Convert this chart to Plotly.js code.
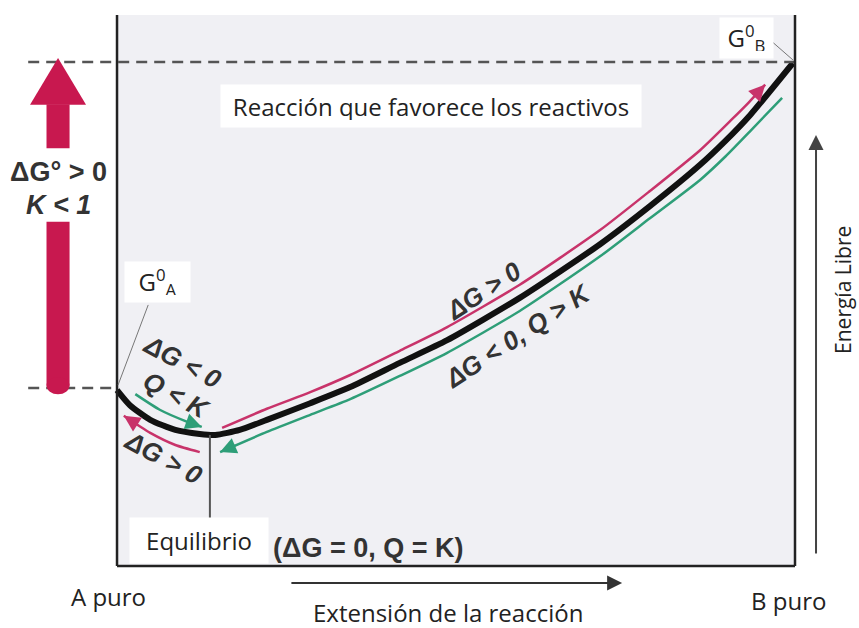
<!DOCTYPE html>
<html><head><meta charset="utf-8">
<script src="https://cdn.plot.ly/plotly-3.0.1.min.js"></script>
<style>html,body{margin:0;padding:0;background:#fff}</style>
</head><body><div id="chart" style="width:859px;height:628px"></div>
<script>
// Reaction extent (0 = A puro, 1 = B puro) and free energy G (arbitrary units)
const extent = [0.000,0.019,0.049,0.086,0.122,0.145,0.181,0.221,0.285,0.344,0.417,0.487,0.594,0.712,0.786,0.860,0.897,0.934,0.997];
const energy = [3.49,3.19,2.90,2.70,2.62,2.60,2.70,2.90,3.23,3.55,4.03,4.48,5.32,6.38,7.14,7.96,8.43,8.95,9.98];

// ΔG > 0 path (upper, pink) toward B
const redExt = [0.155,0.221,0.285,0.344,0.417,0.487,0.594,0.712,0.786,0.860,0.906,0.932,0.956];
const redG   = [2.74,3.12,3.45,3.79,4.27,4.74,5.58,6.66,7.44,8.25,8.85,9.20,9.55];
// ΔG < 0, Q > K path (lower, green) toward equilibrium
const greenExt = [0.152,0.221,0.285,0.344,0.417,0.487,0.594,0.712,0.786,0.860,0.897,0.934,0.981];
const greenG   = [2.26,2.66,3.00,3.31,3.77,4.23,5.06,6.14,6.90,7.66,8.12,8.63,9.29];
// left branch: ΔG < 0, Q < K (green, toward equilibrium)
const greenLeftExt = [0.027,0.063,0.100,0.125];
const greenLeftG   = [3.41,3.10,2.88,2.76];
// left branch: ΔG > 0 (pink, toward A)
const redLeftExt = [0.122,0.086,0.049,0.010];
const redLeftG   = [2.26,2.40,2.64,2.98];

const G_A = 3.53, G_B = 10.0;
const eqExt = 0.137, eqG = 2.60;

const RED = '#c8336a', GREEN = '#2e9e78', BIGRED = '#c8184f';
const SM = 0.6;

const traces = [
  {x: extent, y: energy, mode:'lines', line:{color:'#111', width:6, shape:'spline', smoothing:SM}},
  {x: redExt, y: redG, mode:'lines', line:{color:RED, width:2.5, shape:'spline', smoothing:SM}},
  {x: greenExt, y: greenG, mode:'lines', line:{color:GREEN, width:2.5, shape:'spline', smoothing:SM}},
  {x: greenLeftExt, y: greenLeftG, mode:'lines', line:{color:GREEN, width:2.5, shape:'spline', smoothing:SM}},
  {x: redLeftExt, y: redLeftG, mode:'lines', line:{color:RED, width:2.5, shape:'spline', smoothing:SM}}
];

function head(xs, ys, h, p, color){
  const x = xs[h], y = ys[h];
  return {x:x, y:y, ax: x + 0.35*(xs[p]-x), ay: y + 0.35*(ys[p]-y), axref:'x', ayref:'y',
    xref:'x', yref:'y', text:'', showarrow:true, arrowhead:2, arrowsize:1.3, arrowwidth:2.5,
    arrowcolor:color, standoff:0};
}

const boxTop = 10.93;
const shapes = [
  {type:'rect', layer:'below', x0:0, x1:1, y0:0, y1:boxTop, fillcolor:'#f0f0f4', line:{width:0}},
  // dashed reference levels
  {type:'line', x0:-0.131, x1:1.0, y0:G_B, y1:G_B, line:{color:'#555', width:2.5, dash:'11px,7px'}},
  {type:'line', x0:-0.131, x1:0, y0:G_A, y1:G_A, line:{color:'#555', width:2.5, dash:'11px,7px'}},
  // frame
  {type:'line', x0:0, x1:0, y0:0, y1:boxTop, line:{color:'#222', width:2.5}},
  {type:'line', x0:1, x1:1, y0:0, y1:boxTop, line:{color:'#222', width:2.5}},
  {type:'line', x0:0, x1:1, y0:0, y1:0, line:{color:'#222', width:2.5}},
  // leader lines
  {type:'line', x0:0.046, x1:0.0015, y0:5.18, y1:3.59, line:{color:'#777', width:1}},
  {type:'line', x0:0.963, x1:0.997, y0:10.44, y1:10.04, line:{color:'#777', width:1}},
  // equilibrium marker
  {type:'line', x0:eqExt, x1:eqExt, y0:eqG, y1:0.95, line:{color:'#555', width:2}},
  // big red arrow (ΔG° > 0)
  {type:'path', path:`M -0.1283,9.15 L -0.0870,${G_B+0.08} L -0.0457,9.15 Z`, fillcolor:BIGRED, line:{width:0}},
  {type:'rect', x0:-0.1040, x1:-0.0700, y0:8.29, y1:9.16, fillcolor:BIGRED, line:{width:0}},
  {type:'rect', x0:-0.1040, x1:-0.0700, y0:G_A+0.05, y1:6.83, fillcolor:BIGRED, line:{width:0}},
  {type:'circle', x0:-0.1040, x1:-0.0700, y0:G_A-0.12, y1:G_A+0.22, fillcolor:BIGRED, line:{width:0}}
];

const F = 'Open Sans, sans-serif';
const B = 'Liberation Sans, Arial, sans-serif';
const TXT = {family:F, size:24, color:'#222'};
const BOLD = {family:B, size:27, color:'#333', weight:'bold'};
const BI = {family:B, size:26, color:'#333', weight:'bold', style:'italic'};
const ann = [
  head(redExt, redG, redExt.length-1, redExt.length-2, RED),
  head(greenExt, greenG, 0, 1, GREEN),
  head(greenLeftExt, greenLeftG, greenLeftExt.length-1, greenLeftExt.length-2, GREEN),
  head(redLeftExt, redLeftG, redLeftExt.length-1, redLeftExt.length-2, RED),
  // axes arrows
  {x:0.745, y:-0.337, ax:0.255, ay:-0.337, axref:'x', ayref:'y', text:'', showarrow:true, arrowhead:2, arrowsize:1.5, arrowwidth:2, arrowcolor:'#333'},
  {x:1.031, y:8.55, ax:1.031, ay:0.22, axref:'x', ayref:'y', text:'', showarrow:true, arrowhead:2, arrowsize:1.5, arrowwidth:2, arrowcolor:'#444'},
  // texts
  {x:0.463, y:9.13, text:'Reacción que favorece los reactivos', showarrow:false, font:TXT, bgcolor:'#fff', width:406, height:28, borderpad:7},
  {x:0.060, y:5.63, text:'G<sup>0</sup><sub>A</sub>', showarrow:false, font:TXT, bgcolor:'#fff', width:51, height:26, borderpad:7},
  {x:0.928, y:10.48, text:'G<sup>0</sup><sub>B</sub>', showarrow:false, font:TXT, bgcolor:'#fff', width:39, height:26, borderpad:7},
  {x:0.121, y:0.50, text:'Equilibrio', showarrow:false, font:TXT, bgcolor:'#fff', width:124, height:31, borderpad:7},
  {x:0.370, y:0.357, text:'(ΔG = 0, Q = K)', showarrow:false, font:BOLD},
  {x:-0.013, y:-0.595, text:'A puro', showarrow:false, font:TXT},
  {x:0.990, y:-0.675, text:'B puro', showarrow:false, font:TXT},
  {x:0.488, y:-0.913, text:'Extensión de la reacción', showarrow:false, font:TXT},
  {x:1.071, y:5.48, text:'Energía Libre', textangle:-90, showarrow:false, font:{family:F, size:21, color:'#222'}},
  {x:-0.087, y:7.82, text:'ΔG° > 0', showarrow:false, font:BOLD},
  {x:-0.087, y:7.16, text:'K < 1', showarrow:false, font:{family:B, size:27, color:'#333', weight:'bold', style:'italic'}},
  {x:0.097, y:4.05, text:'ΔG < 0', textangle:28, showarrow:false, font:BI},
  {x:0.087, y:3.39, text:'Q < K', textangle:28, showarrow:false, font:BI},
  {x:0.069, y:2.14, text:'ΔG > 0', textangle:28, showarrow:false, font:BI},
  {x:0.540, y:5.46, text:'ΔG > 0', textangle:-33, showarrow:false, font:BI},
  {x:0.591, y:4.56, text:'ΔG < 0, Q > K', textangle:-33, showarrow:false, font:BI}
];

const layout = {
  width:859, height:628, margin:{l:0, r:0, t:0, b:0},
  paper_bgcolor:'#fff', plot_bgcolor:'#fff', showlegend:false,
  xaxis:{range:[-0.1726, 1.0944], visible:false, fixedrange:true},
  yaxis:{range:[-1.230, 11.230], visible:false, fixedrange:true},
  shapes: shapes, annotations: ann
};
Plotly.newPlot('chart', traces, layout, {staticPlot:true});
</script></body></html>
